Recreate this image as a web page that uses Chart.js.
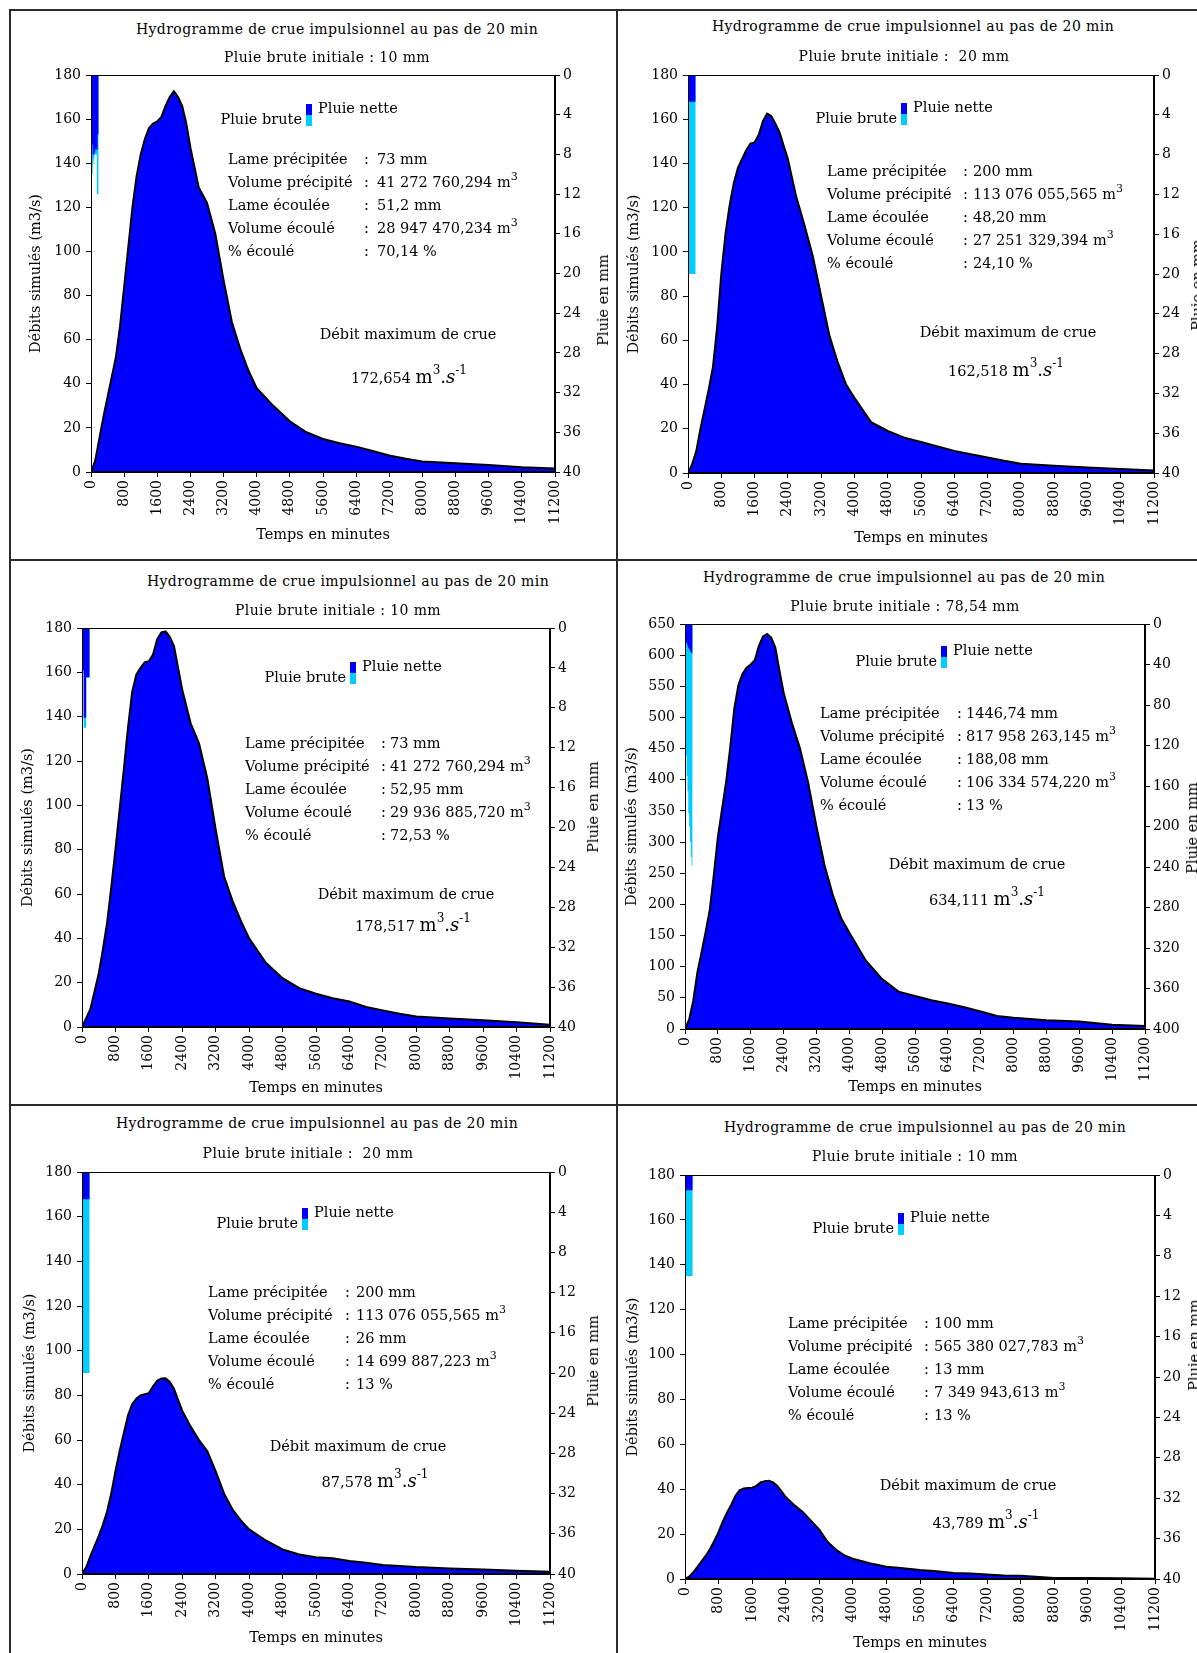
<!DOCTYPE html>
<html>
<head>
<meta charset="utf-8">
<script src="https://cdn.jsdelivr.net/npm/chart.js@4.4.1/dist/chart.umd.min.js"></script>
<style>
  html, body { margin: 0; padding: 0; background: #fff; }
  body { position: relative; width: 1197px; height: 1653px; overflow: hidden; font-family: 'DejaVu Serif', serif; color: #000; }
  canvas { position: absolute; }
  .rule { position: absolute; background: #2a2a2a; }
  .txt { position: absolute; white-space: pre; font-size: 14.5px; line-height: 16px; }
  .ttl { font-size: 14px; letter-spacing: 0.4px; }
  .txt sup { font-size: 11px; vertical-align: 7px; line-height: 0; }
  .unit { font-size: 18px; }
  .unit sup { font-size: 12px; vertical-align: 9px; }
  .mark { position: absolute; width: 6px; height: 11px; }
</style>
</head>
<body>
<script>
// time axis (minutes) and tick values
const times = [0, 100, 200, 300, 400, 500, 600, 700, 800, 900, 1000, 1100, 1200, 1300, 1400, 1500, 1600, 1700, 1800, 1900,
  2000, 2100, 2200, 2300, 2400, 2600, 2800, 3000, 3200, 3400, 3600, 3800, 4000,
  4400, 4800, 5200, 5600, 6000, 6400, 6800, 7200, 7600, 8000, 8800, 9600, 10400, 11200];
const xTicks = [0, 800, 1600, 2400, 3200, 4000, 4800, 5600, 6400, 7200, 8000, 8800, 9600, 10400, 11200];
const flowTicks180 = [0, 20, 40, 60, 80, 100, 120, 140, 160, 180];
const flowTicks650 = [0, 50, 100, 150, 200, 250, 300, 350, 400, 450, 500, 550, 600, 650];
const rainTicks40 = [0, 4, 8, 12, 16, 20, 24, 28, 32, 36, 40];
const rainTicks400 = [0, 40, 80, 120, 160, 200, 240, 280, 320, 360, 400];
const rainTimes = [0, 20, 40, 60, 80, 100, 120, 140, 160, 180, 200];

// simulated discharges (m3/s)
const flow1 = [0, 5, 15, 25, 34, 43, 52, 66, 84, 102, 120, 134, 144, 151, 156, 158, 159, 161, 166, 170, 172.6, 170, 166, 158, 147,
  129, 122, 108, 87, 68, 56, 46, 38, 30, 23, 18, 15, 13, 11.5, 9.5, 7.5, 6, 4.8, 4, 3.2, 2.2, 1.6];
const flow2 = [0, 4, 10, 20, 29, 38, 48, 66, 90, 108, 121, 131, 138, 142, 146, 149, 149.5, 153, 159, 162.5, 161.5, 158, 154, 148, 142,
  125, 112, 98, 80, 62, 50, 40, 34, 23, 19, 16, 14, 12, 10, 8.5, 7, 5.5, 4.2, 3.3, 2.5, 1.8, 1.1];
const flow3 = [0, 4, 8, 16, 24, 35, 47, 63, 80, 98, 116, 135, 151, 159, 162, 164.5, 165, 168, 175, 178, 178.5, 176, 172, 162, 152,
  137, 128, 112, 89, 68, 57, 48, 40, 29, 22, 17.5, 15, 13, 11.5, 9, 7.5, 6, 4.7, 3.8, 3, 2.2, 1];
const flow4 = [0, 15, 45, 90, 122, 155, 190, 246, 308, 352, 396, 451, 514, 552, 570, 580, 585, 592, 615, 630, 634, 628, 612, 575, 540,
  492, 450, 395, 325, 262, 215, 178, 155, 110, 80, 60, 53, 46, 41, 35, 28, 21, 18, 14, 12, 7, 5];
const flow5 = [0, 3, 8, 12.5, 17, 22, 28, 36, 46, 55, 63, 71, 76, 78.5, 80, 80.5, 81, 84, 86.5, 87.5, 87.6, 86, 83, 78, 73,
  66, 60, 55, 46, 36, 29, 24, 20, 15, 11, 8.7, 7.5, 7, 5.8, 5, 4, 3.6, 3.1, 2.5, 2, 1.5, 1];
const flow6 = [0, 1, 3, 5.5, 8, 10.5, 13.5, 17, 21, 25.5, 29.5, 33, 37, 39.5, 40.3, 40.6, 40.7, 41.5, 43, 43.6, 43.8, 43, 41.5, 39, 36.5,
  33, 30, 26, 22, 16.5, 13, 10.5, 9, 7, 5.5, 4.8, 4, 3.5, 2.7, 2.4, 2, 1.6, 1.4, 0.5, 0.4, 0.3, 0.1];

// rain per 20 min step (mm): brute / nette
const brute1 = [5, 5, 10, 9, 8.5, 8, 8, 8, 12, 12, 0];
const nette1 = [5, 5, 7, 8, 8, 7.8, 7.5, 7.5, 7.5, 6, 0];
const brute2 = [20, 20, 20, 20, 20, 20, 20, 20, 20, 20, 0];
const nette2 = [10, 2.7, 2.7, 2.7, 2.7, 2.7, 2.7, 2.7, 2.7, 2.7, 0];
const brute3 = [4.5, 4.5, 4.5, 10, 10, 10, 5, 5, 5, 5, 0];
const nette3 = [4.2, 4.2, 4.2, 9, 9, 9, 4.9, 4.9, 4.9, 4.9, 0];
const brute4 = [100, 115, 130, 150, 165, 187, 200, 215, 230, 239, 0];
const nette4 = [14, 16, 18, 20, 22, 24, 25, 27, 28, 29, 0];
const brute5 = [20, 20, 20, 20, 20, 20, 20, 20, 20, 20, 0];
const nette5 = [2.7, 2.7, 2.7, 2.7, 2.7, 2.7, 2.7, 2.7, 2.7, 2.7, 0];
const brute6 = [10, 10, 10, 10, 10, 10, 10, 10, 10, 10, 0];
const nette6 = [1.5, 1.5, 1.5, 1.5, 1.5, 1.5, 1.5, 1.5, 1.5, 1.5, 0];

// texts
const mainTitle = 'Hydrogramme de crue impulsionnel au pas de 20 min';
const subTitles = ['Pluie brute initiale : 10 mm', 'Pluie brute initiale :  20 mm', 'Pluie brute initiale : 10 mm',
  'Pluie brute initiale : 78,54 mm', 'Pluie brute initiale :  20 mm', 'Pluie brute initiale : 10 mm'];
const statLabels = ['Lame précipitée', 'Volume précipité', 'Lame écoulée', 'Volume écoulé', '% écoulé'];
const stats1 = ['73 mm', '41 272 760,294 m<sup>3</sup>', '51,2 mm', '28 947 470,234 m<sup>3</sup>', '70,14 %'];
const stats2 = ['200 mm', '113 076 055,565 m<sup>3</sup>', '48,20 mm', '27 251 329,394 m<sup>3</sup>', '24,10 %'];
const stats3 = ['73 mm', '41 272 760,294 m<sup>3</sup>', '52,95 mm', '29 936 885,720 m<sup>3</sup>', '72,53 %'];
const stats4 = ['1446,74 mm', '817 958 263,145 m<sup>3</sup>', '188,08 mm', '106 334 574,220 m<sup>3</sup>', '13 %'];
const stats5 = ['200 mm', '113 076 055,565 m<sup>3</sup>', '26 mm', '14 699 887,223 m<sup>3</sup>', '13 %'];
const stats6 = ['100 mm', '565 380 027,783 m<sup>3</sup>', '13 mm', '7 349 943,613 m<sup>3</sup>', '13 %'];
const peaks = ['172,654', '162,518', '178,517', '634,111', '87,578', '43,789'];

// page layout of each panel (plot box, axis sizes, overlay anchors)
const panels = [
  { flow: flow1, brute: brute1, nette: nette1, stats: stats1, yTicks: flowTicks180, rTicks: rainTicks40,
    plot: [91, 75, 555, 472], lw: 63, bh: 74, title: [337, 29, 327, 57], rTitle: [603, 300],
    legend: [306, 104], st: [228, 364, 377, 159], max: [408, 334, 409, 377] },
  { flow: flow2, brute: brute2, nette: nette2, stats: stats2, yTicks: flowTicks180, rTicks: rainTicks40,
    plot: [688, 75, 1154, 473], lw: 62, bh: 76, title: [913, 26, 904, 56], rTitle: [1197, 285],
    legend: [901, 103], st: [827, 963, 973, 171], max: [1008, 332, 1006, 370] },
  { flow: flow3, brute: brute3, nette: nette3, stats: stats3, yTicks: flowTicks180, rTicks: rainTicks40,
    plot: [82, 628, 550, 1027], lw: 62, bh: 72, title: [348, 581, 338, 610], rTitle: [593, 807],
    legend: [350, 662], st: [245, 381, 390, 743], max: [406, 894, 413, 925] },
  { flow: flow4, brute: brute4, nette: nette4, stats: stats4, yTicks: flowTicks650, rTicks: rainTicks400,
    plot: [685, 624, 1145, 1029], lw: 61, bh: 69, title: [904, 577, 905, 606], rTitle: [1192, 828],
    legend: [941, 646], st: [820, 957, 966, 713], max: [977, 864, 987, 899] },
  { flow: flow5, brute: brute5, nette: nette5, stats: stats5, yTicks: flowTicks180, rTicks: rainTicks40,
    plot: [82, 1172, 550, 1574], lw: 60, bh: 75, title: [317, 1123, 308, 1153], rTitle: [593, 1361],
    legend: [302, 1208], st: [208, 345, 356, 1292], max: [358, 1446, 375, 1481] },
  { flow: flow6, brute: brute6, nette: nette6, stats: stats6, yTicks: flowTicks180, rTicks: rainTicks40,
    plot: [685, 1175, 1155, 1579], lw: 60, bh: 75, title: [925, 1127, 915, 1156], rTitle: [1194, 1345],
    legend: [898, 1213], st: [788, 924, 934, 1323], max: [968, 1485, 986, 1522] }
];

const FONT = "'DejaVu Serif', serif";
const BLUE = '#0000ff';
const CYAN = '#00ccff';
const PT = 14, RW = 56;

Chart.defaults.color = '#000';
Chart.defaults.font.family = FONT;
Chart.defaults.font.size = 14;

function rule(x, y, w, h) {
  const d = document.createElement('div');
  d.className = 'rule';
  Object.assign(d.style, { left: x + 'px', top: y + 'px', width: w + 'px', height: h + 'px' });
  document.body.appendChild(d);
}

function put(x, y, html, align, cls) {
  const d = document.createElement('div');
  d.className = 'txt' + (cls ? ' ' + cls : '');
  d.style.left = x + 'px';
  d.style.top = y + 'px';
  const tx = align === 'c' ? '-50%' : align === 'r' ? '-100%' : '0';
  d.style.transform = 'translate(' + tx + ',-50%)';
  d.innerHTML = html;
  document.body.appendChild(d);
  return d;
}

function box(x, y, color) {
  const d = document.createElement('div');
  d.className = 'mark';
  Object.assign(d.style, { left: x + 'px', top: y + 'px', background: color });
  document.body.appendChild(d);
}

const frame = {
  id: 'frame',
  afterDraw(chart) {
    const { ctx, chartArea: a } = chart;
    ctx.save();
    ctx.strokeStyle = '#000';
    ctx.lineWidth = 1;
    ctx.strokeRect(Math.round(a.left) + 0.5, Math.round(a.top) + 0.5, Math.round(a.width) - 1, Math.round(a.height) - 1);
    ctx.restore();
  }
};

const tickGrid = { drawOnChartArea: false, drawTicks: true, tickLength: 5, color: '#000', lineWidth: 1 };
const axisBorder = { display: true, color: '#000', width: 1 };
const plainNumber = (v) => String(v);

function drawPanel(p, k) {
  const [L, T, R, B] = p.plot;
  const w = p.lw + (R - L) + RW;
  const h = PT + (B - T) + p.bh;
  const cv = document.createElement('canvas');
  cv.width = w; cv.height = h;
  Object.assign(cv.style, { left: (L - p.lw) + 'px', top: (T - PT) + 'px', width: w + 'px', height: h + 'px' });
  document.body.appendChild(cv);

  new Chart(cv, {
    type: 'line',
    data: {
      datasets: [
        {
          data: times.map((t, i) => ({ x: t, y: p.flow[i] })),
          yAxisID: 'y', fill: 'origin', backgroundColor: BLUE, borderColor: '#000',
          borderWidth: 2, pointRadius: 0, tension: 0, order: 3
        },
        {
          data: rainTimes.map((t, i) => ({ x: t, y: p.brute[i] })),
          yAxisID: 'y2', stepped: 'after', fill: 'origin', backgroundColor: CYAN,
          borderWidth: 0, borderColor: CYAN, pointRadius: 0, order: 2
        },
        {
          data: rainTimes.map((t, i) => ({ x: t, y: p.nette[i] })),
          yAxisID: 'y2', stepped: 'after', fill: 'origin', backgroundColor: BLUE,
          borderWidth: 0, borderColor: BLUE, pointRadius: 0, order: 1
        }
      ]
    },
    options: {
      responsive: false,
      animation: false,
      devicePixelRatio: 1,
      layout: { padding: { top: PT, left: 0, right: 0, bottom: 0 } },
      plugins: { legend: { display: false }, tooltip: { enabled: false } },
      scales: {
        x: {
          type: 'linear', min: 0, max: 11200,
          afterBuildTicks: (s) => { s.ticks = xTicks.map((v) => ({ value: v })); },
          afterFit: (s) => { s.height = p.bh; s.paddingLeft = 0; s.paddingRight = 0; },
          ticks: { autoSkip: false, maxRotation: 90, minRotation: 90, padding: 3, callback: plainNumber },
          grid: tickGrid, border: axisBorder,
          title: { display: true, text: 'Temps en minutes', font: { size: 14.5 }, padding: { top: 0, bottom: 2 } }
        },
        y: {
          type: 'linear', position: 'left', min: 0, max: p.yTicks[p.yTicks.length - 1],
          afterBuildTicks: (s) => { s.ticks = p.yTicks.map((v) => ({ value: v })); },
          afterFit: (s) => { s.width = p.lw; s.paddingTop = 0; s.paddingBottom = 0; },
          ticks: { padding: 5, callback: plainNumber },
          grid: tickGrid, border: axisBorder,
          title: { display: true, text: 'Débits simulés (m3/s)', font: { size: 14.5 }, padding: 0 }
        },
        y2: {
          type: 'linear', position: 'right', reverse: true, min: 0, max: p.rTicks[p.rTicks.length - 1],
          afterBuildTicks: (s) => { s.ticks = p.rTicks.map((v) => ({ value: v })); },
          afterFit: (s) => { s.width = RW; s.paddingTop = 0; s.paddingBottom = 0; },
          ticks: { padding: 3, callback: plainNumber },
          grid: tickGrid, border: axisBorder
        }
      }
    },
    plugins: [frame]
  });

  // titles
  put(p.title[0], p.title[1], mainTitle, 'c', 'ttl');
  put(p.title[2], p.title[3], subTitles[k], 'c', 'ttl');

  // right axis title, reading upward
  const rt = put(p.rTitle[0], p.rTitle[1], 'Pluie en mm', 'c');
  rt.style.transform = 'translate(-50%,-50%) rotate(-90deg)';

  // legend
  const [mx, my] = p.legend;
  box(mx, my, BLUE);
  box(mx, my + 11, CYAN);
  put(mx - 4, my + 15, 'Pluie brute', 'r');
  put(mx + 12, my + 4, 'Pluie nette', 'l');

  // statistics block
  const [sx, cx, vx, y0] = p.st;
  statLabels.forEach((lab, i) => {
    const y = y0 + i * 23;
    put(sx, y, lab, 'l');
    put(cx, y, ':', 'l');
    put(vx, y, p.stats[i], 'l');
  });

  // peak discharge
  put(p.max[0], p.max[1], 'Débit maximum de crue', 'c');
  put(p.max[2], p.max[3], peaks[k] + ' <span class="unit">m<sup>3</sup>.<i>s</i><sup>-1</sup></span>', 'c');
}

// panel frame lines
rule(9, 9, 1188, 2);
rule(9, 9, 2, 1644);
rule(616, 9, 2, 1644);
rule(9, 559, 1188, 2);
rule(9, 1104, 1188, 2);

panels.forEach(drawPanel);
</script>
</body>
</html>
